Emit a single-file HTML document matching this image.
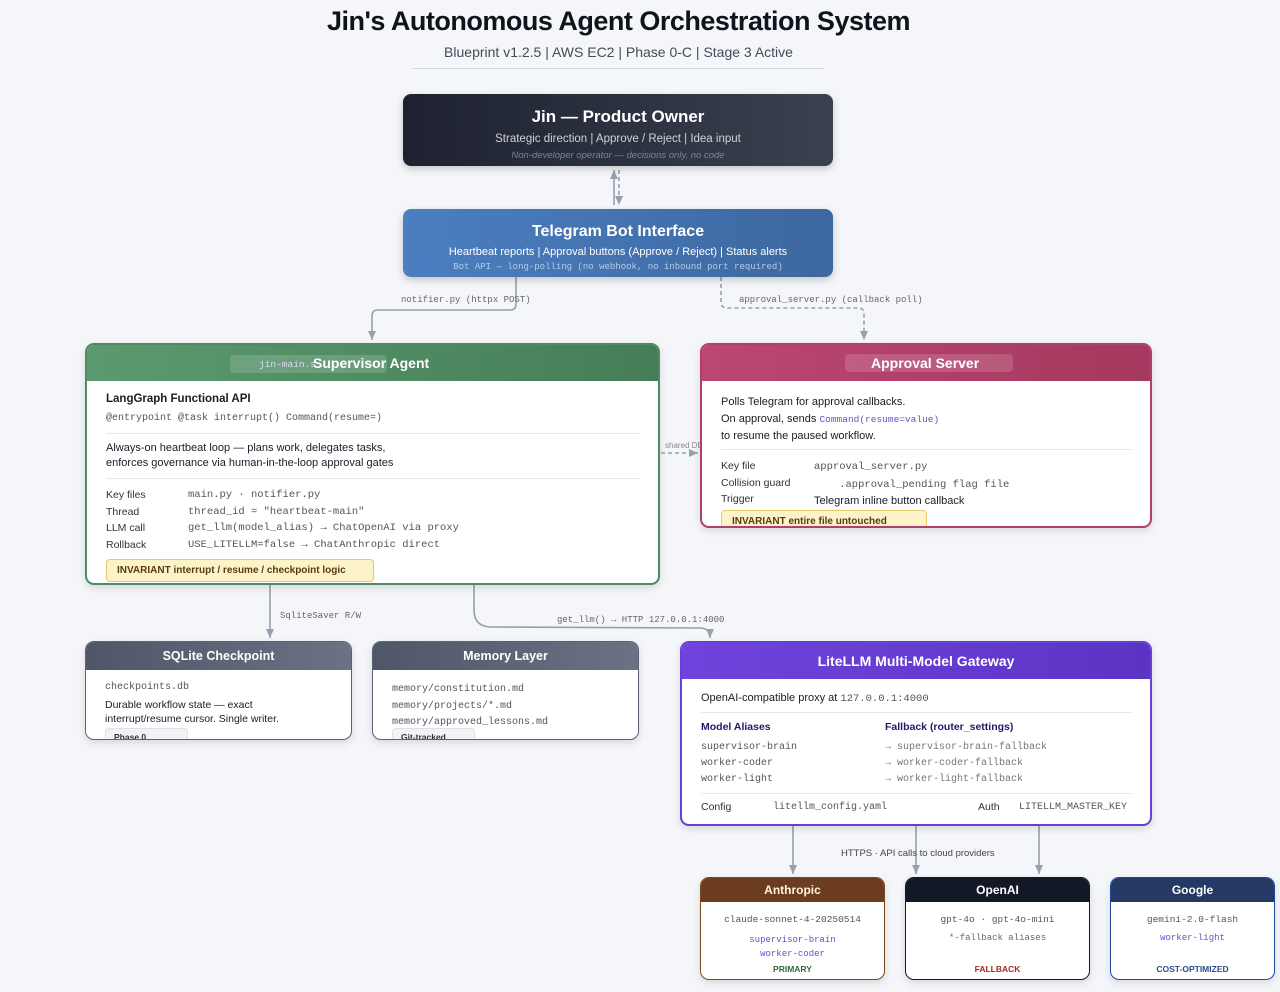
<!DOCTYPE html>
<html><head><meta charset="utf-8">
<style>
*{box-sizing:border-box;margin:0;padding:0}
body{width:1280px;height:992px;background:#f4f6f9;font-family:"Liberation Sans",sans-serif;position:relative;overflow:hidden;color:#1a1d26}
.a{position:absolute}
.m{font-family:"Liberation Mono",monospace}
.box{position:absolute;background:#fff;border-radius:9px;overflow:hidden;box-shadow:0 3px 8px rgba(0,0,0,.12)}
.hd{color:#fff;font-weight:bold;text-align:center;position:absolute;left:0;right:0;top:0}
.t{position:absolute;white-space:nowrap;font-size:11px}
.mono{font-family:"Liberation Mono",monospace;color:#555;font-size:10.5px}
.hr{position:absolute;height:1px;background:#e6e8ee}
.inv{position:absolute;background:#fdf3c8;border:1px solid #e5c970;border-radius:4px;font-size:10px;font-weight:bold;color:#5a3a10;padding:5px 10px}
.tag{position:absolute;background:#f1f3f6;border:1px solid #dde0e6;border-radius:4px;font-size:8.5px;font-weight:bold;color:#333;padding:3px 8px;width:83px}
.lbl{position:absolute;font-family:"Liberation Mono",monospace;font-size:9px;color:#666;white-space:nowrap}
</style></head><body>
<div class="a" style="left:0;width:1237px;top:6px;text-align:center;font-size:27px;font-weight:bold;color:#11131c;letter-spacing:-0.5px">Jin's Autonomous Agent Orchestration System</div>
<div class="a" style="left:0;width:1237px;top:44px;text-align:center;font-size:14px;color:#444a58">Blueprint v1.2.5 | AWS EC2 | Phase 0-C | Stage 3 Active</div>
<div class="a" style="left:413px;width:411px;top:68px;height:1px;background:#d6d9e0"></div>

<svg class="a" style="left:0;top:0" width="1280" height="992">
<defs><marker id="ar" markerWidth="8" markerHeight="8" refX="4" refY="7" orient="auto-start-reverse" markerUnits="userSpaceOnUse"><path d="M0,0 L8,0 L4,8z" fill="#97a0ae" transform="rotate(0)"/></marker>
<marker id="ah" markerWidth="10" markerHeight="10" refX="9" refY="5" orient="auto" markerUnits="userSpaceOnUse"><path d="M0,1 L9,5 L0,9z" fill="#97a0ae"/></marker></defs>
<g stroke="#97a0ae" stroke-width="1.6" fill="none">
<path d="M614 205 V170" marker-end="url(#ah)"/>
<path d="M619 170 V205" stroke-dasharray="4 3" marker-end="url(#ah)"/>
<path d="M516 277 V304 Q516 310 510 310 H378 Q372 310 372 316 V340" marker-end="url(#ah)"/>
<path d="M721 277 V302 Q721 308 727 308 H858 Q864 308 864 314 V340" stroke-dasharray="4 3" marker-end="url(#ah)"/>
<path d="M661 453 H698" stroke-dasharray="4 3" marker-end="url(#ah)"/>
<path d="M270 585 V638" marker-end="url(#ah)"/>
<path d="M474 585 V610 Q474 626 490 627 L700 628 Q710 628 710 638" marker-end="url(#ah)"/>
<path d="M793 826 V874" marker-end="url(#ah)"/>
<path d="M916 826 V874" marker-end="url(#ah)"/>
<path d="M1039 826 V874" marker-end="url(#ah)"/>
</g></svg>
<div class="lbl" style="left:401px;top:295px">notifier.py (httpx POST)</div>
<div class="lbl" style="left:739px;top:295px">approval_server.py (callback poll)</div>
<div class="a" style="left:665px;top:441px;font-size:8px;color:#888">shared DB</div>
<div class="lbl" style="left:280px;top:611px">SqliteSaver R/W</div>
<div class="lbl" style="left:557px;top:615px">get_llm() → HTTP 127.0.0.1:4000</div>
<div class="a" style="left:841px;top:848px;font-size:9.5px;color:#444">HTTPS · API calls to cloud providers</div>

<!-- Jin -->
<div class="a" style="left:403px;top:94px;width:430px;height:72px;border-radius:8px;background:linear-gradient(90deg,#1d2130,#3b414f);box-shadow:0 3px 8px rgba(0,0,0,.2)">
<div class="a" style="left:0;right:0;top:13px;text-align:center;color:#fff;font-weight:bold;font-size:17px">Jin — Product Owner</div>
<div class="a" style="left:0;right:0;top:39px;text-align:center;color:#cfd3dc;font-size:11.5px">Strategic direction | Approve / Reject | Idea input</div>
<div class="a" style="left:0;right:0;top:56px;text-align:center;color:#7d8494;font-size:9.5px;font-style:italic">Non-developer operator — decisions only, no code</div>
</div>
<!-- Telegram -->
<div class="a" style="left:403px;top:209px;width:430px;height:68px;border-radius:8px;background:linear-gradient(90deg,#4b7fc1,#3d679f);box-shadow:0 3px 8px rgba(0,0,0,.2)">
<div class="a" style="left:0;right:0;top:14px;text-align:center;color:#fff;font-weight:bold;font-size:16px">Telegram Bot Interface</div>
<div class="a" style="left:0;right:0;top:37px;text-align:center;color:#fff;font-size:11px">Heartbeat reports | Approval buttons (Approve / Reject) | Status alerts</div>
<div class="a m" style="left:0;right:0;top:53px;text-align:center;color:#b8cbe6;font-size:9px">Bot API — long-polling (no webhook, no inbound port required)</div>
</div>

<!-- Supervisor -->
<div class="box" style="left:85px;top:343px;width:575px;height:242px;border:2px solid #4e8a62">
<div class="hd" style="height:36px;background:linear-gradient(90deg,#5b9a6e,#467d58)"></div>
<div class="a" style="left:143px;top:10px;width:157px;height:18px;background:rgba(255,255,255,.15);border-radius:4px"></div>
<div class="a m" style="left:172px;top:14px;font-size:9.5px;color:#dde">jin-main.s</div>
<div class="a" style="left:226px;top:10px;color:#fff;font-weight:bold;font-size:14px">Supervisor Agent</div>
<div class="t" style="left:19px;top:48px;font-weight:bold;font-size:11.5px">LangGraph Functional API</div>
<div class="t mono" style="left:19px;top:68px;font-size:10px">@entrypoint @task interrupt() Command(resume=)</div>
<div class="hr" style="left:19px;right:18px;top:88px"></div>
<div class="t" style="left:19px;top:96px;line-height:15px">Always-on heartbeat loop — plans work, delegates tasks,<br>enforces governance via human-in-the-loop approval gates</div>
<div class="hr" style="left:19px;right:18px;top:133px"></div>
<div class="t" style="left:19px;top:142px;line-height:16.5px;color:#333;font-size:10.5px">Key files<br>Thread<br>LLM call<br>Rollback</div>
<div class="t mono" style="left:101px;top:142px;line-height:16.5px">main.py · notifier.py<br>thread_id = "heartbeat-main"<br>get_llm(model_alias) → ChatOpenAI via proxy<br>USE_LITELLM=false → ChatAnthropic direct</div>
<div class="inv" style="left:19px;top:214px;width:268px">INVARIANT interrupt / resume / checkpoint logic</div>
</div>

<!-- Approval -->
<div class="box" style="left:700px;top:343px;width:452px;height:185px;border:2px solid #b13f69">
<div class="hd" style="height:36px;background:linear-gradient(90deg,#bb4674,#a5395f)"></div>
<div class="a" style="left:143px;top:9px;width:168px;height:18px;background:rgba(255,255,255,.15);border-radius:4px"></div>
<div class="a" style="left:169px;top:10px;color:#fff;font-weight:bold;font-size:14px">Approval Server</div>
<div class="t" style="left:19px;top:49px;line-height:17px">Polls Telegram for approval callbacks.<br>On approval, sends <span class="m" style="color:#6a4fc0;font-size:9.5px">Command(resume=value)</span><br>to resume the paused workflow.</div>
<div class="hr" style="left:19px;right:18px;top:104px"></div>
<div class="t" style="left:19px;top:113px;line-height:16.5px;color:#333;font-size:10.5px">Key file<br>Collision guard<br>Trigger</div>
<div class="t" style="left:112px;top:113px;line-height:16.5px"><span class="mono">approval_server.py</span><br><span class="mono">&nbsp;&nbsp;&nbsp;&nbsp;.approval_pending flag file</span><br>Telegram inline button callback</div>
<div class="inv" style="left:19px;top:165px;width:206px;height:22px">INVARIANT entire file untouched</div>
</div>

<!-- SQLite -->
<div class="box" style="left:85px;top:641px;width:267px;height:99px;border:1.5px solid #5a6274">
<div class="hd" style="height:28px;background:linear-gradient(90deg,#4e5668,#6a7284);font-size:12.5px;line-height:28px">SQLite Checkpoint</div>
<div class="t mono" style="left:19px;top:40px;font-size:10px">checkpoints.db</div>
<div class="t" style="left:19px;top:56px;line-height:14px;font-size:10.5px">Durable workflow state — exact<br>interrupt/resume cursor. Single writer.</div>
<div class="tag" style="left:19px;top:86px">Phase 0</div>
</div>
<!-- Memory -->
<div class="box" style="left:372px;top:641px;width:267px;height:99px;border:1.5px solid #5a6274">
<div class="hd" style="height:28px;background:linear-gradient(90deg,#4e5668,#6a7284);font-size:12.5px;line-height:28px">Memory Layer</div>
<div class="t mono" style="left:19px;top:40px;line-height:16.5px;font-size:10px">memory/constitution.md<br>memory/projects/*.md<br>memory/approved_lessons.md</div>
<div class="tag" style="left:19px;top:86px">Git-tracked</div>
</div>

<!-- LiteLLM -->
<div class="box" style="left:680px;top:641px;width:472px;height:185px;border:2px solid #6a3fd6">
<div class="hd" style="height:36px;background:linear-gradient(90deg,#7044dc,#5b34c4);font-size:14px;line-height:36px">LiteLLM Multi-Model Gateway</div>
<div class="t" style="left:19px;top:49px">OpenAI-compatible proxy at <span class="mono">127.0.0.1:4000</span></div>
<div class="hr" style="left:19px;right:18px;top:69px"></div>
<div class="t" style="left:19px;top:78px;font-weight:bold;color:#1e1a6a;font-size:10.5px">Model Aliases</div>
<div class="t" style="left:203px;top:78px;font-weight:bold;color:#1e1a6a;font-size:10.5px">Fallback (router_settings)</div>
<div class="t mono" style="left:19px;top:97px;line-height:16px;font-size:10px">supervisor-brain<br>worker-coder<br>worker-light</div>
<div class="t mono" style="left:203px;top:97px;line-height:16px;font-size:10px;color:#777">→ supervisor-brain-fallback<br>→ worker-coder-fallback<br>→ worker-light-fallback</div>
<div class="hr" style="left:19px;right:18px;top:150px"></div>
<div class="t" style="left:19px;top:158px;font-size:10.5px;color:#333">Config</div>
<div class="t mono" style="left:91px;top:159px;font-size:10px">litellm_config.yaml</div>
<div class="t" style="left:296px;top:158px;font-size:10.5px;color:#333">Auth</div>
<div class="t mono" style="left:337px;top:159px;font-size:10px">LITELLM_MASTER_KEY</div>
</div>

<!-- Providers -->
<div class="box" style="left:700px;top:877px;width:185px;height:103px;border:1.5px solid #7a4a1e">
<div class="hd" style="height:24px;background:#6b3c1f;font-size:12px;line-height:24px;color:#fff4dc">Anthropic</div>
<div class="a mono" style="left:0;right:0;top:36px;text-align:center;font-size:9.5px">claude-sonnet-4-20250514</div>
<div class="a mono" style="left:0;right:0;top:55px;text-align:center;font-size:9px;color:#6a4fc0;line-height:14px">supervisor-brain<br>worker-coder</div>
<div class="a" style="left:0;right:0;top:86px;text-align:center;font-size:8.5px;font-weight:bold;color:#2e6b3e">PRIMARY</div>
</div>
<div class="box" style="left:905px;top:877px;width:185px;height:103px;border:1.5px solid #121826">
<div class="hd" style="height:24px;background:#121826;font-size:12px;line-height:24px">OpenAI</div>
<div class="a mono" style="left:0;right:0;top:36px;text-align:center;font-size:9.5px">gpt-4o · gpt-4o-mini</div>
<div class="a mono" style="left:0;right:0;top:55px;text-align:center;font-size:9px;color:#666">*-fallback aliases</div>
<div class="a" style="left:0;right:0;top:86px;text-align:center;font-size:8.5px;font-weight:bold;color:#a52a22">FALLBACK</div>
</div>
<div class="box" style="left:1110px;top:877px;width:165px;height:103px;border:1.5px solid #1f4a9a">
<div class="hd" style="height:24px;background:#243a64;font-size:12px;line-height:24px">Google</div>
<div class="a mono" style="left:0;right:0;top:36px;text-align:center;font-size:9.5px">gemini-2.0-flash</div>
<div class="a mono" style="left:0;right:0;top:55px;text-align:center;font-size:9px;color:#6a4fc0">worker-light</div>
<div class="a" style="left:0;right:0;top:86px;text-align:center;font-size:8.5px;font-weight:bold;color:#2a4f8a">COST-OPTIMIZED</div>
</div>
</body></html>
